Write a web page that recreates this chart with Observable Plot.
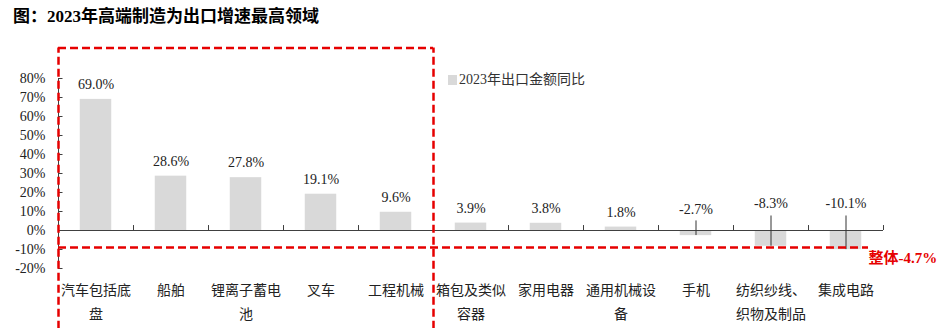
<!DOCTYPE html>
<html><head><meta charset="utf-8">
<script src="https://cdn.jsdelivr.net/npm/d3@7"></script>
<script src="https://cdn.jsdelivr.net/npm/@observablehq/plot@0.6"></script>
<style>
body{margin:0;background:#fff;width:950px;height:328px;overflow:hidden;position:relative;font-family:'Liberation Serif','Noto Sans CJK SC',serif;}
#title{height:40px;line-height:34px;padding-left:13px;font-size:17px;font-weight:bold;color:#000;box-sizing:border-box;}
#legend{position:absolute;left:448px;top:72px;font-size:14px;line-height:16px;color:#333;display:flex;align-items:center;}
#legend .sw{display:inline-block;width:9px;height:10px;background:#d9d9d9;margin-right:2px;}
#chart svg{display:block;}
</style></head><body>
<div id="title">图：2023年高端制造为出口增速最高领域</div>
<div id="chart"></div>
<div id="legend"><span class="sw"></span><span>2023年出口金额同比</span></div>
<script>
const categories = ["汽车包括底盘","船舶","锂离子蓄电池","叉车","工程机械","箱包及类似容器","家用电器","通用机械设备","手机","纺织纱线、织物及制品","集成电路"];
const tickLabels = ["汽车包括底\n盘","船舶","锂离子蓄电\n池","叉车","工程机械","箱包及类似\n容器","家用电器","通用机械设\n备","手机","纺织纱线、\n织物及制品","集成电路"];
const values = [69.0, 28.6, 27.8, 19.1, 9.6, 3.9, 3.8, 1.8, -2.7, -8.3, -10.1];
const yTicks = [-20, -10, 0, 10, 20, 30, 40, 50, 60, 70, 80];
const overallLabel = "整体-4.7%";
const highlightCount = 5;
// annotation box (in data units)
const boxTop = 96, boxBottom = -8.9, frameBottom = -52, boxLineEnd = 10.8;

const n = categories.length;
const rows = categories.map((c, i) => ({i, cat: c, label: tickLabels[i], value: values[i]}));
const pos = rows.filter(d => d.value >= 0);
const negSmall = rows.filter(d => d.value < 0 && d.value > -5);
const negBig = rows.filter(d => d.value <= -5);
const neg = rows.filter(d => d.value < 0);
const fmt = d => d.value.toFixed(1) + "%";
const red = {stroke: "#e60000", strokeWidth: 2.5, strokeDasharray: "8,4"};
const cx = d => d.i + 0.5;

const chart = Plot.plot({
  width: 950, height: 288,
  marginLeft: 58, marginRight: 67, marginTop: 38, marginBottom: 60,
  x: {domain: [0, n], axis: null},
  y: {domain: [-20, 80], axis: null},
  style: {fontFamily: "'Liberation Serif','Noto Sans CJK SC',serif", fontSize: "14px", color: "#222", background: "#fff", overflow: "visible"},
  marks: [
    Plot.rectY(rows, {x1: d => d.i + 0.29, x2: d => d.i + 0.71, y: "value", fill: "#d9d9d9"}),
    Plot.ruleX([0], {y1: -20, y2: 80, stroke: "#404040"}),
    Plot.ruleY(yTicks, {y: d => d, x1: 0, x2: 0.06, stroke: "#404040"}),
    Plot.text(yTicks, {y: d => d, frameAnchor: "left", dx: -13, textAnchor: "end", text: d => d + "%", fill: "#222", fontSize: 14}),
    Plot.ruleY([0], {x1: 0, x2: n, stroke: "#404040"}),
    Plot.ruleX(d3.range(1, n + 1), {x: d => d, y1: 0, y2: 2.6, stroke: "#404040"}),
    Plot.text(pos, {x: cx, y: "value", text: fmt, dy: -15, fill: "#222", fontSize: 14}),
    Plot.text(negSmall, {x: cx, y: () => 0, text: fmt, dy: -21, fill: "#222", fontSize: 14}),
    Plot.text(negBig, {x: cx, y: () => 0, text: fmt, dy: -27, fill: "#222", fontSize: 14}),
    Plot.link(neg, {x1: cx, x2: cx, y1: d => d.value > -5 ? 5.3 : 7.9, y2: d => d.value + 0.3, stroke: "#333", strokeWidth: 1}),
    Plot.text(rows, {x: cx, frameAnchor: "bottom", text: "label", lineAnchor: "top", dy: 10, lineHeight: 1.71, fontSize: 14, fill: "#222"}),
    Plot.ruleY([boxTop], {x1: 0, x2: highlightCount, ...red}),
    Plot.ruleY([boxBottom], {x1: 0, x2: boxLineEnd, ...red}),
    Plot.ruleX([0, highlightCount], {y1: frameBottom, y2: boxTop, ...red}),
    Plot.text([overallLabel], {x: () => boxLineEnd, y: () => boxBottom, dy: 11, textAnchor: "start", fill: "#e60000", fontWeight: "bold", fontSize: 15})
  ]
});
document.getElementById("chart").appendChild(chart);
</script>
</body></html>
